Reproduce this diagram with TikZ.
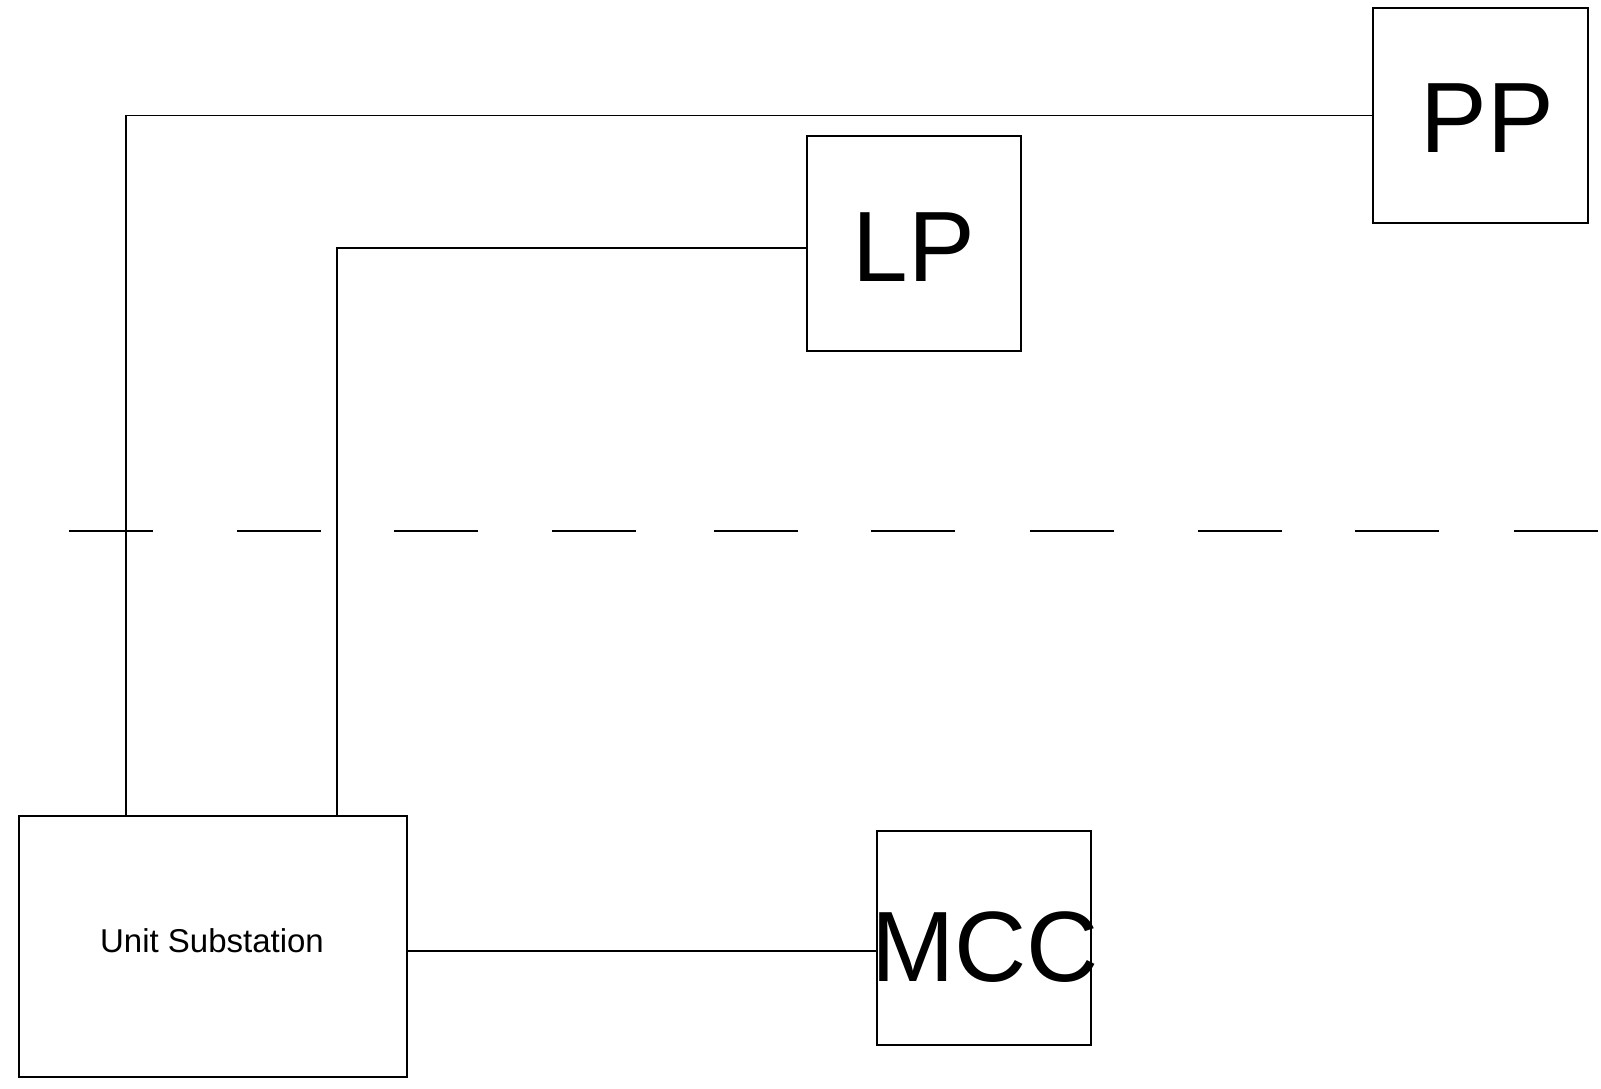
\documentclass[tikz,border=0pt]{standalone}
\usepackage{fontspec}
\setmainfont{Liberation Sans}
\begin{document}
\begin{tikzpicture}[x=1pt,y=-1pt,
  box/.style={draw,line width=1.3pt,inner sep=0pt},
  wire/.style={line width=1.3pt},
  bigtext/.style={font=\fontsize{100}{110}\selectfont,inner sep=0pt,anchor=base},
  smalltext/.style={font=\fontsize{33}{40}\selectfont,inner sep=0pt,anchor=base}]
\useasboundingbox[fill=white] (0,0) rectangle (1601,1089);
% boxes
\node[box,minimum width=215pt,minimum height=215pt] (pp) at (1480.5,115.5) {};
\node[box,minimum width=214pt,minimum height=215pt] (lp) at (914,243.5) {};
\node[box,minimum width=214pt,minimum height=214pt] (mcc) at (984,938) {};
\node[box,minimum width=388pt,minimum height=261pt] (us) at (213,946.5) {};
% labels
\node[bigtext] (ppt) at (1487,153) {PP};
\node[bigtext] (lpt) at (914,281) {LP};
\node[bigtext] (mcct) at (985,981) {MCC};
\node[smalltext] (ust) at (212,952) {Unit Substation};
% dashed boundary
\foreach \s in {69,237,394,552,714,871,1030,1198,1355,1514}
  \draw[wire] (\s,531) -- ++(84,0);
% connectors
\coordinate (usa) at (126,816.5);
\coordinate (usb) at (337,816.5);
\coordinate (lpy) at (0,248);
\coordinate (mccy) at (0,951);
\draw[wire] (pp.west) -| (usa);
\draw[wire] (lp.west |- lpy) -| (usb);
\draw[wire] (us.east |- mccy) -- (mcc.west |- mccy);
\end{tikzpicture}
\end{document}
